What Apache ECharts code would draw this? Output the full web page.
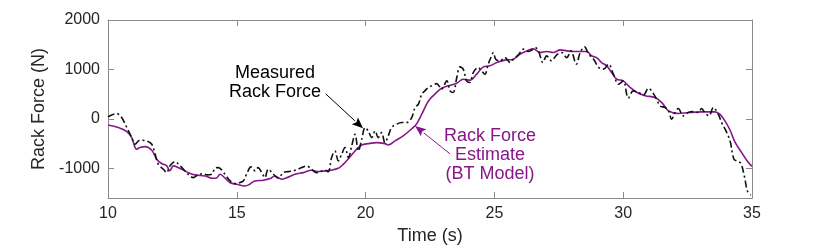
<!DOCTYPE html>
<html>
<head>
<meta charset="utf-8">
<script src="https://cdn.jsdelivr.net/npm/echarts@6/dist/echarts.min.js"></script>
<style>html,body{margin:0;padding:0;background:#fff}#c{width:830px;height:250px}</style>
</head>
<body>
<div id="c"></div>
<script>
// ---- Data ----
const measuredT = [10.0,10.14,10.34,10.53,10.73,10.92,11.05,11.24,11.5,11.7,11.83,11.95,12.15,12.28,12.4,12.6,12.8,12.99,13.18,13.31,13.5,13.7,13.83,14.03,14.15,14.28,14.54,14.74,14.93,15.12,15.25,15.38,15.55,15.71,15.83,15.97,16.09,16.22,16.42,16.61,16.8,17.0,17.26,17.52,17.71,17.9,18.1,18.3,18.42,18.55,18.68,18.81,18.94,19.07,19.2,19.33,19.46,19.59,19.72,19.85,19.98,20.1,20.24,20.37,20.49,20.62,20.75,20.88,21.01,21.2,21.4,21.6,21.79,21.92,22.05,22.18,22.3,22.43,22.56,22.76,22.95,23.15,23.28,23.4,23.54,23.66,23.79,23.92,24.05,24.18,24.37,24.5,24.63,24.76,24.89,24.96,25.05,25.22,25.41,25.61,25.74,25.93,26.13,26.32,26.51,26.58,26.71,26.88,27.03,27.22,27.42,27.61,27.81,27.97,28.18,28.33,28.5,28.66,28.85,29.05,29.24,29.43,29.62,29.82,30.0,30.2,30.39,30.59,30.79,30.98,31.1,31.3,31.43,31.63,31.76,31.88,32.01,32.14,32.33,32.53,32.72,32.92,33.04,33.17,33.33,33.5,33.69,33.82,33.99,34.15,34.3,34.45,34.57,34.7,34.83,34.96];
const measuredF = [40,81,108,27,-175,-378,-513,-432,-445,-513,-715,-917,-1018,-1087,-951,-864,-951,-1052,-1154,-1188,-1133,-1107,-1133,-1120,-1000,-985,-1120,-1255,-1309,-1288,-1255,-1120,-971,-1052,-985,-1087,-1188,-1018,-1120,-1200,-1087,-1066,-1040,-985,-951,-1018,-1087,-1052,-1040,-1066,-783,-648,-850,-715,-580,-783,-547,-310,-648,-412,-175,-243,-378,-243,-378,-277,-480,-344,-175,-108,-74,-74,27,230,297,500,567,634,668,714,600,769,567,533,836,1052,1006,769,735,937,1038,971,904,1107,1275,1342,1208,1174,1240,1140,1208,1295,1410,1362,1410,1443,1376,1140,1275,1174,1295,1342,1240,1376,1107,1342,1457,1310,1208,1038,1006,1107,904,702,769,420,567,533,486,620,567,398,263,230,162,-7,128,209,61,128,148,128,209,128,61,230,95,-74,-243,-450,-816,-860,-900,-1150,-1470,-1540];

const estimateT = [10.0,10.4,10.73,10.92,11.11,11.24,11.44,11.7,11.89,12.08,12.28,12.4,12.54,12.86,13.12,13.38,13.77,14.03,14.2,14.35,14.55,14.74,15.0,15.32,15.5,15.7,16.03,16.29,16.48,16.74,16.94,17.26,17.58,17.9,18.16,18.42,18.62,18.94,19.13,19.39,19.65,19.85,20.1,20.43,20.75,20.88,21.14,21.46,21.79,21.98,22.18,22.37,22.5,22.69,22.95,23.21,23.54,23.79,24.05,24.31,24.57,24.83,25.09,25.41,25.74,26.0,26.32,26.51,26.77,27.03,27.29,27.55,27.81,28.07,28.39,28.58,28.78,28.97,29.16,29.36,29.55,29.75,30.0,30.26,30.52,30.85,31.23,31.5,31.76,32.14,32.53,33.04,33.56,33.75,33.95,34.15,34.34,34.6,34.8,35.0];
const estimateF = [-125,-175,-257,-378,-614,-580,-560,-635,-815,-903,-950,-1050,-950,-1020,-1087,-1133,-1154,-1200,-1200,-1120,-1200,-1290,-1322,-1356,-1322,-1255,-1240,-1208,-1154,-1220,-1188,-1120,-1087,-1040,-1066,-1052,-1040,-1000,-920,-770,-615,-527,-500,-480,-500,-527,-445,-344,-200,-100,95,300,400,500,620,668,722,803,783,904,1052,1073,1140,1188,1208,1310,1390,1420,1342,1362,1342,1396,1376,1362,1362,1362,1275,1240,1140,1073,937,803,769,640,540,470,432,330,162,110,128,142,142,95,-40,-230,-470,-682,-840,-960];

const xTicks = [10,15,20,25,30,35];
const yTicks = [-1000,0,1000,2000];

const purple = '#86168a';
const axisGray = '#8a8a8a';
const textDark = '#262626';
const font = '"Liberation Sans", Arial, Helvetica, sans-serif';

const measured = measuredT.map((t,i)=>[t, measuredF[i]]);
const estimate = estimateT.map((t,i)=>[t, estimateF[i]]);

const chart = echarts.init(document.getElementById('c'), null, {renderer:'canvas'});

const baseX = {
  type:'value', min:10, max:35, interval:5,
  axisLine:{show:true, onZero:false, lineStyle:{color:axisGray, width:1}},
  axisTick:{show:true, inside:true, length:6, lineStyle:{color:axisGray}, customValues:xTicks},
  splitLine:{show:false}
};
const baseY = {
  type:'value', min:-1600, max:2000,
  axisLine:{show:true, onZero:false, lineStyle:{color:axisGray, width:1}},
  axisTick:{show:true, inside:true, length:6, lineStyle:{color:axisGray}, customValues:yTicks},
  splitLine:{show:false}
};

chart.setOption({
  animation:false,
  backgroundColor:'#fff',
  grid:{left:108, right:78, top:20, bottom:52, containLabel:false},
  xAxis:[
    Object.assign({}, baseX, {
      position:'bottom',
      name:'Time (s)', nameLocation:'middle', nameGap:29,
      nameTextStyle:{fontFamily:font, fontSize:18, color:textDark},
      axisLabel:{show:true, customValues:xTicks, margin:8, fontFamily:font, fontSize:16, color:textDark, formatter:v=>String(v)}
    }),
    Object.assign({}, baseX, {position:'top', axisLabel:{show:false}})
  ],
  yAxis:[
    Object.assign({}, baseY, {
      position:'left',
      name:'Rack Force (N)', nameLocation:'middle', nameGap:55,
      nameTextStyle:{fontFamily:font, fontSize:18, color:textDark},
      axisLabel:{show:true, customValues:yTicks, margin:8, fontFamily:font, fontSize:16, color:textDark, formatter:v=>String(v)}
    }),
    Object.assign({}, baseY, {position:'right', axisLabel:{show:false}})
  ],
  series:[
    {
      name:'Rack Force Estimate (BT Model)', type:'line', data:estimate,
      showSymbol:false, smooth:0.35, clip:true,
      lineStyle:{color:purple, width:1.6}, z:2
    },
    {
      name:'Measured Rack Force', type:'line', data:measured,
      showSymbol:false, smooth:0.35, clip:true,
      lineStyle:{color:'#111', width:1.6, type:[7,3,2,3]}, z:3
    }
  ]
});

// ---- Annotations positioned in data coordinates ----
function px(t,v){ return chart.convertToPixel({gridIndex:0}, [t,v]); }
function arrow(from, to, color){
  const a = px(from[0],from[1]), b = px(to[0],to[1]);
  const dx=b[0]-a[0], dy=b[1]-a[1], L=Math.hypot(dx,dy), ux=dx/L, uy=dy/L;
  const hl=11, hw=4.5;
  const bx=b[0]-ux*hl, by=b[1]-uy*hl;
  return [
    {type:'line', shape:{x1:a[0],y1:a[1],x2:bx,y2:by}, style:{stroke:color, lineWidth:1}, z:10},
    {type:'polygon', shape:{points:[[b[0],b[1]],[bx-uy*hw,by+ux*hw],[bx+ux*2,by+uy*2],[bx+uy*hw,by-ux*hw]]}, style:{fill:color}, z:10}
  ];
}
function label(t,v,text,color){
  const p = px(t,v);
  return {type:'text', x:p[0], y:p[1], style:{text:text, fill:color, font:'18px '+font, align:'center', verticalAlign:'middle', lineHeight:19}, z:10};
}
const g = [];
g.push(label(16.48, 740, 'Measured\nRack Force', '#000'));
g.push(...arrow([18.45, 506], [19.9, -190], '#000'));
g.push(label(24.83, -729, 'Rack Force\nEstimate\n(BT Model)', purple));
g.push(...arrow([23.28, -708], [21.92, -142], purple));
chart.setOption({graphic:g});
</script>
</body>
</html>
